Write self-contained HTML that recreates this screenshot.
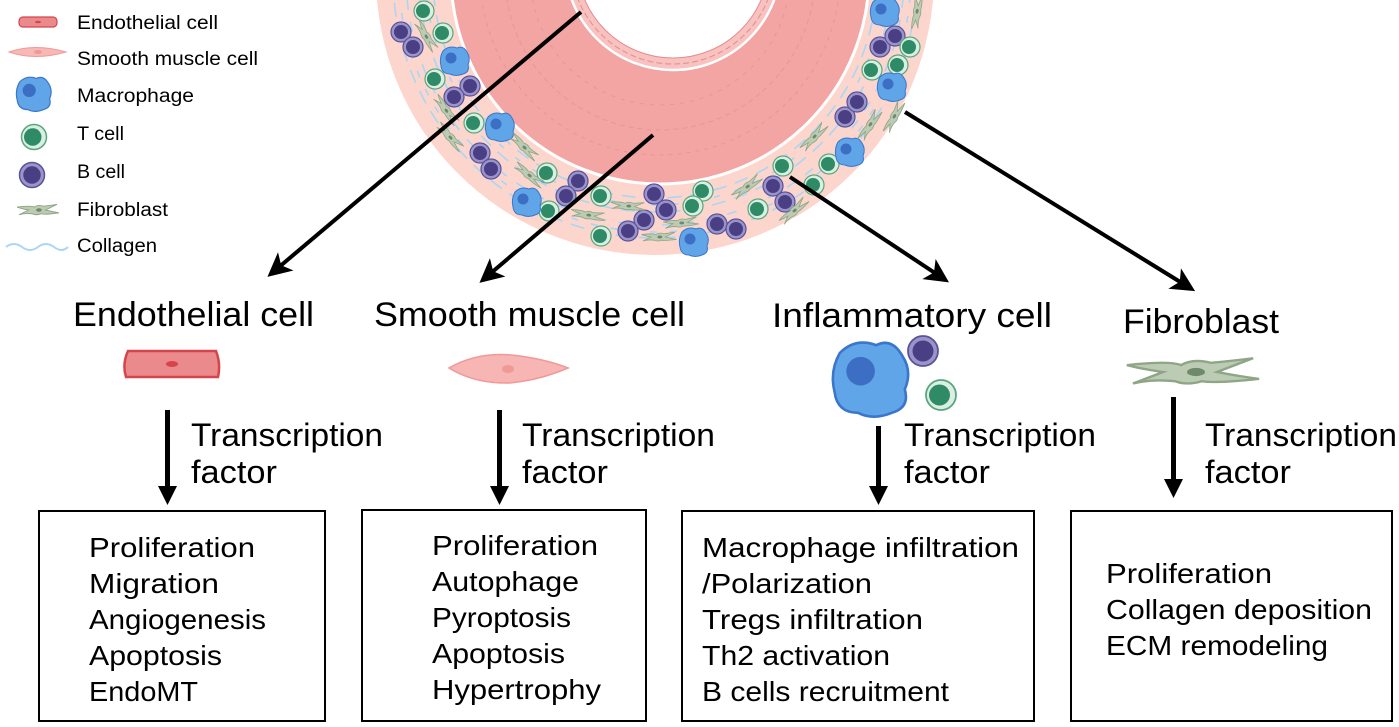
<!DOCTYPE html>
<html><head><meta charset="utf-8"><style>
html,body{margin:0;padding:0;background:#fff;}
svg{display:block;font-family:"Liberation Sans",Arial,sans-serif;}
</style></head><body>
<svg width="1399" height="727" viewBox="0 0 1399 727" xmlns="http://www.w3.org/2000/svg">
<defs>
<g id="bc"><circle r="10" fill="#9a95c8" stroke="#5b519c" stroke-width="1.2"/><circle r="7" fill="#4a3f85"/></g>
<g id="tc"><ellipse rx="10" ry="10" fill="#d9efe3" stroke="#5aa57e" stroke-width="1.2"/><circle cx="-1" cy="0" r="7" fill="#2f8a66"/></g>
<g id="mc"><path d="M-12,-10 Q-6,-16 2,-13 Q8,-16 12,-9 Q16,-3 13,4 Q15,11 8,13 Q1,16 -5,13 Q-13,13 -14,5 Q-16,-3 -12,-10Z" fill="#5fa5e8" stroke="#3a76cc" stroke-width="1"/><circle cx="-4" cy="-3" r="5.5" fill="#3c6fc4"/></g>
<g id="fb"><path d="M-22,-3 Q-8,-5 -4,-3 Q0,-6 6,-4 Q14,-5 20,-6 Q12,-2 8,0 Q16,2 22,3 Q8,5 3,4 Q-2,6 -6,4 Q-14,3 -20,5 Q-12,1 -10,0 Q-16,-1 -22,-3Z" fill="#bccbb4" stroke="#8ea586" stroke-width="1"/><ellipse cx="1" cy="0" rx="3" ry="1.8" fill="#6f8a6a"/></g>
<marker id="ah" markerWidth="6" markerHeight="6" refX="4.5" refY="3" orient="auto" markerUnits="strokeWidth"><path d="M0,0 L6,3 L0,6 L1.5,3Z" fill="#000"/></marker>
</defs>

<!-- vessel -->
<circle cx="655" cy="-24" r="279" fill="#fcd6cc"/>
<g fill="none" stroke="#a8d6f6" stroke-width="1.6" stroke-dasharray="14 9">
<circle cx="655" cy="-24" r="222"/><circle cx="655" cy="-24" r="236"/><circle cx="655" cy="-24" r="249" stroke-dasharray="10 12"/><circle cx="655" cy="-24" r="262"/><circle cx="655" cy="-24" r="229" stroke-dasharray="6 15"/><circle cx="655" cy="-24" r="256" stroke-dasharray="7 13"/>
</g>
<circle cx="660" cy="-25" r="209" fill="#f2a5a3" stroke="#fff" stroke-width="3"/>
<circle cx="660" cy="-25" r="180" fill="none" stroke="#ea9593" stroke-width="1" stroke-dasharray="4 5"/>
<circle cx="660" cy="-25" r="155" fill="none" stroke="#ea9593" stroke-width="1" stroke-dasharray="5 4"/>
<circle cx="660" cy="-25" r="130" fill="none" stroke="#ea9593" stroke-width="1" stroke-dasharray="4 6"/>
<circle cx="673" cy="-38" r="108" fill="#f7c2bf" stroke="#fff" stroke-width="2.5"/>
<circle cx="673" cy="-38" r="102" fill="none" stroke="#e88b8b" stroke-width="1" stroke-dasharray="6 3"/>
<circle cx="673" cy="-38" r="96" fill="#fff" stroke="#e88b8b" stroke-width="1"/>

<!-- cells -->
<g>
<use href="#bc" x="401" y="32"/><use href="#bc" x="413" y="47"/><use href="#bc" x="470" y="86"/><use href="#bc" x="454" y="97"/><use href="#bc" x="480" y="153"/><use href="#bc" x="491" y="169"/><use href="#bc" x="578" y="181"/><use href="#bc" x="566" y="196"/><use href="#bc" x="654" y="194"/><use href="#bc" x="666" y="210"/><use href="#bc" x="644" y="220"/><use href="#bc" x="628" y="231"/><use href="#bc" x="717" y="224"/><use href="#bc" x="736" y="229"/><use href="#bc" x="773" y="186"/><use href="#bc" x="785" y="202"/><use href="#bc" x="845" y="117"/><use href="#bc" x="857" y="102"/><use href="#bc" x="880" y="47"/><use href="#bc" x="895" y="36"/>
<use href="#tc" x="424" y="11"/><use href="#tc" x="443" y="33"/><use href="#tc" x="435" y="79"/><use href="#tc" x="474" y="123"/><use href="#tc" x="547" y="173"/><use href="#tc" x="549" y="211"/><use href="#tc" x="601" y="196"/><use href="#tc" x="601" y="236"/><use href="#tc" x="703" y="191"/><use href="#tc" x="693" y="206"/><use href="#tc" x="758" y="209"/><use href="#tc" x="783" y="166"/><use href="#tc" x="814" y="185"/><use href="#tc" x="829" y="164"/><use href="#tc" x="872" y="70"/><use href="#tc" x="898" y="65"/><use href="#tc" x="910" y="47"/>
<use href="#mc" x="455" y="61"/><use href="#mc" x="500" y="127"/><use href="#mc" x="527" y="202"/><use href="#mc" x="694" y="242"/><use href="#mc" x="850" y="152"/><use href="#mc" x="892" y="87"/><use href="#mc" x="885" y="12"/>
<use href="#fb" transform="translate(426,36) rotate(60) scale(0.8)"/><use href="#fb" transform="translate(446,110) rotate(55) scale(0.8)"/><use href="#fb" transform="translate(450,137) rotate(50) scale(0.8)"/><use href="#fb" transform="translate(524,147) rotate(45) scale(0.8)"/><use href="#fb" transform="translate(529,175) rotate(40) scale(0.8)"/><use href="#fb" transform="translate(588,215) rotate(10) scale(0.8)"/><use href="#fb" transform="translate(628,206) rotate(5) scale(0.8)"/><use href="#fb" transform="translate(659,237) scale(0.8)"/><use href="#fb" transform="translate(681,223) rotate(-5) scale(0.8)"/><use href="#fb" transform="translate(747,187) rotate(-35) scale(0.8)"/><use href="#fb" transform="translate(794,211) rotate(-40) scale(0.8)"/><use href="#fb" transform="translate(814,137) rotate(-45) scale(0.8)"/><use href="#fb" transform="translate(870,125) rotate(-55) scale(0.8)"/><use href="#fb" transform="translate(894,117) rotate(-60) scale(0.8)"/><use href="#fb" transform="translate(917,12) rotate(-80) scale(0.8)"/>
</g>

<!-- diagonal arrows -->
<g stroke="#000" stroke-width="4" fill="none">
<line x1="581" y1="12" x2="272" y2="273" marker-end="url(#ah)"/>
<line x1="653" y1="135" x2="484" y2="279" marker-end="url(#ah)"/>
<line x1="790" y1="177" x2="944" y2="279" marker-end="url(#ah)"/>
<line x1="905" y1="112" x2="1190" y2="288" marker-end="url(#ah)"/>
</g>

<!-- legend -->
<g>
<rect x="19" y="17" width="38" height="10" rx="4" fill="#ea8a8c" stroke="#d5454b" stroke-width="1.2"/><ellipse cx="38" cy="22" rx="3" ry="1.2" fill="#d5454b"/>
<path d="M9,52 Q35,43 66,52 Q35,61 9,52Z" fill="#f7b8b6" stroke="#f09a98"/><ellipse cx="38" cy="52" rx="4" ry="2" fill="#f09a98"/>
<use href="#mc" transform="translate(34,94) scale(1.2)"/>
<use href="#tc" transform="translate(34,137) scale(1.25)"/>
<use href="#bc" transform="translate(32,175) scale(1.25)"/>
<use href="#fb" transform="translate(38,210) scale(0.95)"/>
<path d="M6,247 Q14,241 22,247 T38,247 T54,247 T68,247" fill="none" stroke="#a8d6f6" stroke-width="2"/>
<g font-size="19" fill="#000" lengthAdjust="spacingAndGlyphs">
<text x="77" y="29" textLength="141" lengthAdjust="spacingAndGlyphs">Endothelial cell</text>
<text x="77" y="65" textLength="181" lengthAdjust="spacingAndGlyphs">Smooth muscle cell</text>
<text x="77" y="102" textLength="117" lengthAdjust="spacingAndGlyphs">Macrophage</text>
<text x="77" y="140" textLength="47" lengthAdjust="spacingAndGlyphs">T cell</text>
<text x="77" y="178" textLength="48" lengthAdjust="spacingAndGlyphs">B cell</text>
<text x="77" y="216" textLength="91" lengthAdjust="spacingAndGlyphs">Fibroblast</text>
<text x="77" y="252" textLength="80" lengthAdjust="spacingAndGlyphs">Collagen</text>
</g>
</g>

<!-- titles -->
<g font-size="34" fill="#000">
<text x="73" y="326" textLength="241" lengthAdjust="spacingAndGlyphs">Endothelial cell</text>
<text x="374" y="326" textLength="311" lengthAdjust="spacingAndGlyphs">Smooth muscle cell</text>
<text x="772" y="327" textLength="280" lengthAdjust="spacingAndGlyphs">Inflammatory cell</text>
<text x="1123" y="333" textLength="156" lengthAdjust="spacingAndGlyphs">Fibroblast</text>
</g>

<!-- cell icons -->
<path d="M128,351 L216,351 Q221,364 218,377 L126,377 Q122,364 128,351Z" fill="#ea8a8c" stroke="#d5454b" stroke-width="2.5"/>
<ellipse cx="172" cy="364" rx="6" ry="3" fill="#d5454b"/>
<path d="M449,368 Q480,350 520,356 Q548,360 568,368 Q540,380 510,383 Q475,384 449,368Z" fill="#f7b5b3" stroke="#f09a98" stroke-width="1.5"/>
<ellipse cx="508" cy="369" rx="6" ry="4" fill="#f09a98"/>
<use href="#mc" transform="translate(871,379) scale(2.6)"/>
<use href="#bc" transform="translate(923,351) scale(1.5)"/>
<use href="#tc" transform="translate(941,395) scale(1.5)"/>
<use href="#fb" transform="translate(1193,372) scale(3,2.3)"/>

<!-- vertical arrows -->
<g fill="#000">
<rect x="165" y="410" width="5" height="78"/><path d="M158,486 L177,486 L167.5,505Z"/>
<rect x="497" y="410" width="5" height="78"/><path d="M490,486 L509,486 L499.5,505Z"/>
<rect x="876" y="426" width="5" height="62"/><path d="M869,486 L888,486 L878.5,505Z"/>
<rect x="1171" y="397" width="5" height="84"/><path d="M1164,479 L1183,479 L1173.5,498Z"/>
</g>
<g font-size="32" fill="#000">
<text x="191" y="446" textLength="192" lengthAdjust="spacingAndGlyphs">Transcription</text><text x="191" y="483" textLength="86" lengthAdjust="spacingAndGlyphs">factor</text>
<text x="522" y="446" textLength="193" lengthAdjust="spacingAndGlyphs">Transcription</text><text x="522" y="483" textLength="86" lengthAdjust="spacingAndGlyphs">factor</text>
<text x="904" y="446" textLength="192" lengthAdjust="spacingAndGlyphs">Transcription</text><text x="904" y="483" textLength="86" lengthAdjust="spacingAndGlyphs">factor</text>
<text x="1205" y="446" textLength="192" lengthAdjust="spacingAndGlyphs">Transcription</text><text x="1205" y="483" textLength="86" lengthAdjust="spacingAndGlyphs">factor</text>
</g>

<!-- boxes -->
<g fill="none" stroke="#000" stroke-width="2">
<rect x="39" y="511" width="286" height="210"/>
<rect x="362" y="510" width="284" height="211"/>
<rect x="682" y="511" width="352" height="210"/>
<rect x="1071" y="511" width="321" height="210"/>
</g>
<g font-size="28" fill="#000">
<text x="89" y="557" textLength="166" lengthAdjust="spacingAndGlyphs">Proliferation</text>
<text x="89" y="593" textLength="130" lengthAdjust="spacingAndGlyphs">Migration</text>
<text x="89" y="629" textLength="177" lengthAdjust="spacingAndGlyphs">Angiogenesis</text>
<text x="89" y="665" textLength="133" lengthAdjust="spacingAndGlyphs">Apoptosis</text>
<text x="89" y="701" textLength="109" lengthAdjust="spacingAndGlyphs">EndoMT</text>
<text x="432" y="555" textLength="166" lengthAdjust="spacingAndGlyphs">Proliferation</text>
<text x="432" y="591" textLength="147" lengthAdjust="spacingAndGlyphs">Autophage</text>
<text x="432" y="627" textLength="139" lengthAdjust="spacingAndGlyphs">Pyroptosis</text>
<text x="432" y="663" textLength="133" lengthAdjust="spacingAndGlyphs">Apoptosis</text>
<text x="432" y="699" textLength="169" lengthAdjust="spacingAndGlyphs">Hypertrophy</text>
<text x="702" y="557" textLength="317" lengthAdjust="spacingAndGlyphs">Macrophage infiltration</text>
<text x="702" y="593" textLength="170" lengthAdjust="spacingAndGlyphs">/Polarization</text>
<text x="702" y="629" textLength="221" lengthAdjust="spacingAndGlyphs">Tregs infiltration</text>
<text x="702" y="665" textLength="188" lengthAdjust="spacingAndGlyphs">Th2 activation</text>
<text x="702" y="701" textLength="247" lengthAdjust="spacingAndGlyphs">B cells recruitment</text>
<text x="1106" y="583" textLength="166" lengthAdjust="spacingAndGlyphs">Proliferation</text>
<text x="1106" y="619" textLength="266" lengthAdjust="spacingAndGlyphs">Collagen deposition</text>
<text x="1106" y="655" textLength="222" lengthAdjust="spacingAndGlyphs">ECM remodeling</text>
</g>
</svg>
</body></html>
